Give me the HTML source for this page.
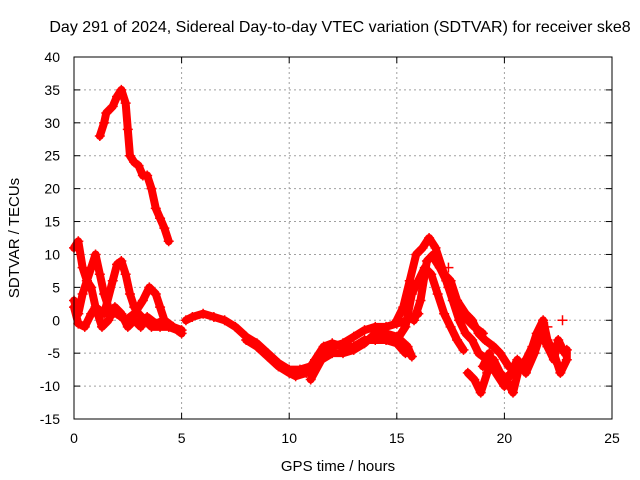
<!DOCTYPE html>
<html><head><meta charset="utf-8"><style>
body{margin:0;background:#fff}
svg{display:block;font-family:"Liberation Sans",sans-serif}
</style></head><body>
<svg id="chart" width="640" height="480" viewBox="0 0 640 480">
<rect width="640" height="480" fill="#fff"/>
<text x="340" y="32" font-size="16" text-anchor="middle">Day 291 of 2024, Sidereal Day-to-day VTEC variation (SDTVAR) for receiver ske8</text>
<text x="338" y="471" font-size="15" text-anchor="middle">GPS time / hours</text>
<text transform="translate(19,238) rotate(-90)" font-size="15" text-anchor="middle">SDTVAR / TECUs</text>
<g id="grid"></g>
<g id="ticks"></g>
<g id="series"></g>
<rect x="74" y="57" width="538" height="362" fill="none" stroke="#000" stroke-width="1"/>
</svg>
<script>
const xTicks=[0,5,10,15,20,25];
const yTicks=[-15,-10,-5,0,5,10,15,20,25,30,35,40];
const trackA=[[1.2,28],[1.4,30],[1.5,31.5],[1.8,32.5],[2.0,34],[2.2,35],[2.4,33],[2.5,29],[2.6,25],[2.8,24],[3.0,23.5],[3.2,22],[3.4,22],[3.6,20],[3.8,17],[4.0,15.5],[4.2,14],[4.4,12]];
const trackB=[[0,11],[0.2,12],[0.4,8],[0.6,6],[0.8,8],[1.0,10],[1.2,7],[1.4,4],[1.6,2],[1.8,1],[2.0,1],[2.4,0],[2.8,1],[3.2,3],[3.5,5],[3.8,4],[4.0,2],[4.2,0],[4.6,-1],[5,-2]];
const trackC=[[0,3],[0.2,1],[0.4,4],[0.6,6],[0.8,5],[1.0,2],[1.4,1],[1.8,6],[2.0,8.5],[2.2,9],[2.4,7],[2.6,4],[2.8,2],[3.0,1],[3.3,0],[3.6,-1],[4.0,-1],[4.4,-1],[4.8,-1.5]];
const trackD=[[0,2],[0.2,-0.5],[0.5,-1],[0.8,1],[1.0,2],[1.3,-1],[1.6,0],[1.9,2],[2.2,1],[2.5,-1],[2.8,0],[3.1,-1],[3.4,0.5],[3.8,-0.5],[4.2,0],[4.6,-1],[5,-1.5]];
const trackE=[[5.2,0],[5.5,0.5],[6,1],[6.5,0.5],[7,0],[7.5,-1],[8,-2.5],[8.5,-3.5],[9,-5],[9.5,-6.5],[10,-7.5],[10.5,-7.5],[11,-7],[11.5,-5],[12,-4],[12.5,-3.5],[13,-2.5],[13.5,-1.5],[14,-1],[14.5,-1],[15,-0.5],[15.5,0],[16,1]];
const trackF=[[8,-3],[8.5,-4],[9,-5.5],[9.5,-7],[10,-8],[10.3,-8.5],[10.8,-8],[11.2,-6],[11.6,-4],[12,-3.5],[12.5,-4],[13,-4],[13.5,-3],[14,-3],[14.5,-3],[15,-3.5],[15.4,-5]];
const trackG=[[11,-9],[11.5,-6],[12,-5],[12.5,-5],[13,-4.5],[13.5,-3.5],[14,-2],[14.5,-2],[15,-2.5],[15.5,-4],[15.7,-5.5]];
const trackH=[[15,0],[15.3,2],[15.6,6],[15.9,10],[16.2,11],[16.5,12.5],[16.8,11],[17.1,8],[17.4,5],[17.7,3],[18,1],[18.3,0],[18.6,-1],[19,-2]];
const trackI=[[15,-3],[15.4,-1],[15.7,4],[16,6],[16.3,8],[16.6,7],[16.9,4],[17.2,1],[17.5,-1],[17.8,-3],[18.1,-4.5]];
const trackJ=[[15.8,0],[16.1,3],[16.4,9],[16.7,10],[17,8],[17.3,6],[17.6,3],[17.9,0],[18.2,-2],[18.5,-3],[18.8,-5],[19.2,-6]];
const trackK=[[16.8,9],[17.2,7],[17.5,6],[17.8,3],[18.2,1],[18.5,0],[18.8,-2],[19.1,-3],[19.5,-4],[19.8,-5],[20.2,-7],[20.6,-8]];
const trackL=[[18.3,-8],[18.6,-9],[18.9,-11],[19.2,-8],[19.5,-6],[19.8,-8],[20.1,-9],[20.4,-11],[20.7,-7],[21,-6],[21.3,-4],[21.5,-2],[21.8,0],[22,-3],[22.3,-5],[22.6,-8],[22.9,-6],[22.9,-4.5]];
const trackM=[[19,-7],[19.3,-5],[19.6,-8],[20,-10],[20.3,-8],[20.6,-6],[21,-8],[21.4,-5],[21.7,-2],[22,-4],[22.3,-6],[22.5,-3],[22.8,-5]];
const trackExtra=[[22.7,0],[22.0,-1],[17.4,8]];
const tracks=[trackA,trackB,trackC,trackD,trackE,trackF,trackG,trackH,trackI,trackJ,trackK,trackL,trackM];

const X0=74,X1=612,Y0=419,Y1=57;
const sx=t=>X0+(t-0)/(25-0)*(X1-X0);
const sy=v=>Y0-(v+15)/(40+15)*(Y0-Y1);
const NS='http://www.w3.org/2000/svg';
const grid=document.getElementById('grid'),ticks=document.getElementById('ticks'),ser=document.getElementById('series');
function mk(tag,attrs,parent){const e=document.createElementNS(NS,tag);for(const k in attrs)e.setAttribute(k,attrs[k]);parent.appendChild(e);return e;}
xTicks.forEach(t=>{
  const x=sx(t);
  if(t>0&&t<25){const g=mk('line',{x1:x,x2:x,y1:Y1,y2:Y0,stroke:'#a0a0a0','stroke-dasharray':'2,3'},grid);
  
  }
  mk('line',{x1:x,x2:x,y1:Y0,y2:Y0-6,stroke:'#000'},ticks);
  mk('line',{x1:x,x2:x,y1:Y1,y2:Y1+6,stroke:'#000'},ticks);
  const l=mk('text',{x:x,y:Y0+24,'font-size':14,'text-anchor':'middle'},ticks);l.textContent=t;
  
  
});
yTicks.forEach(v=>{
  const y=sy(v);
  if(v>-15&&v<40){const g=mk('line',{x1:X0,x2:X1,y1:y,y2:y,stroke:'#a0a0a0','stroke-dasharray':'2,3'},grid);
  
  }
  mk('line',{x1:X0,x2:X0+6,y1:y,y2:y,stroke:'#000'},ticks);
  mk('line',{x1:X1,x2:X1-6,y1:y,y2:y,stroke:'#000'},ticks);
  const l=mk('text',{x:X0-14,y:y+5,'font-size':14,'text-anchor':'end'},ticks);l.textContent=v;
  
  
});
function plus(t,v){
  const x=sx(t),y=sy(v);
  const p=mk('path',{d:`M${x-5} ${y}H${x+5}M${x} ${y-5}V${y+5}`,stroke:'#f00','stroke-width':1.5},ser);
  
  
}
tracks.forEach(tr=>{
  const pl=mk('polyline',{points:tr.map(p=>sx(p[0])+','+sy(p[1])).join(' '),fill:'none',stroke:'#f00','stroke-width':8,'stroke-linejoin':'round','stroke-linecap':'round'},ser);
  
  
  tr.forEach(p=>plus(p[0],p[1]));
});
trackExtra.forEach(p=>plus(p[0],p[1]));
</script>
</body></html>
